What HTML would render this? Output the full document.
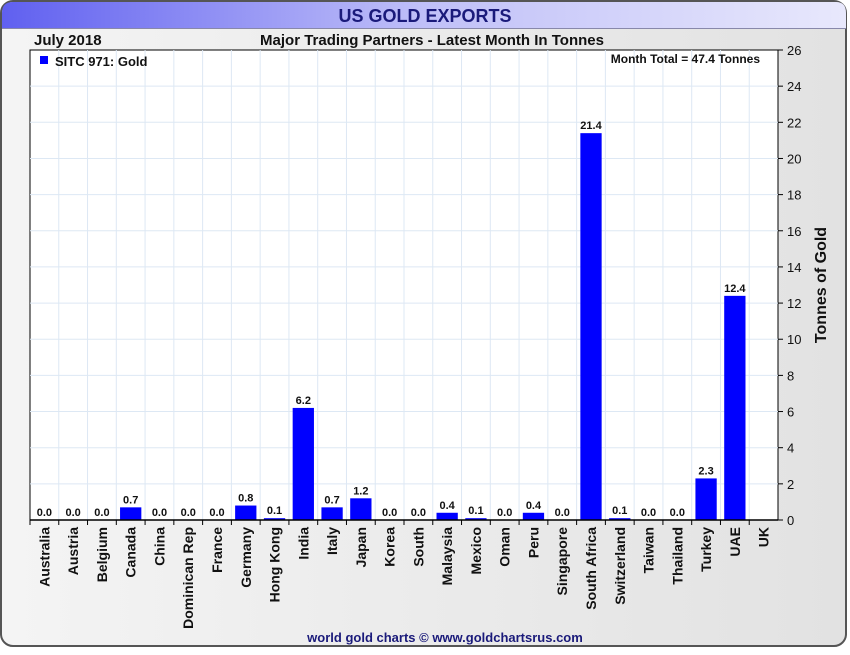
<!DOCTYPE html>
<html><head><meta charset="utf-8"><style>
body{margin:0;width:850px;height:650px;overflow:hidden;background:#fff;font-family:"Liberation Sans",sans-serif}
</style></head><body>
<svg width="850" height="650" xmlns="http://www.w3.org/2000/svg">
<defs>
<linearGradient id="tb" x1="0" x2="1"><stop offset="0" stop-color="#6060f0"/><stop offset="0.5" stop-color="#c0c0f8"/><stop offset="1" stop-color="#e8e8fc"/></linearGradient>
<linearGradient id="bg" x1="0" x2="1"><stop offset="0" stop-color="#f4f4f4"/><stop offset="1" stop-color="#e2e2e2"/></linearGradient>
</defs>
<rect x="1" y="1" width="845" height="645" rx="12" fill="url(#bg)" stroke="#555" stroke-width="2"/>
<path d="M2 28 V13 Q2 2 13 2 H836 Q846 2 846 13 V28 Z" fill="url(#tb)"/>
<line x1="2" y1="28.5" x2="846" y2="28.5" stroke="#8888aa"/>
<text x="425" y="22" text-anchor="middle" font-size="18" font-weight="bold" fill="#1a1a7a">US GOLD EXPORTS</text>
<text x="34" y="45" font-size="15" font-weight="bold" fill="#111">July 2018</text>
<text x="432" y="45" text-anchor="middle" font-size="15" font-weight="bold" fill="#111">Major Trading Partners - Latest Month In Tonnes</text>
<rect x="30" y="50" width="748" height="470" fill="#fff" stroke="#000"/>
<g id="grid"></g><g id="bars"></g><g id="axes"></g>
<rect x="40" y="56" width="8" height="8" fill="#0000ff"/>
<text x="55" y="66" font-size="13" font-weight="bold" fill="#111">SITC 971: Gold</text>
<text x="760" y="63" text-anchor="end" font-size="12" font-weight="bold" fill="#111">Month Total = 47.4 Tonnes</text>
<text transform="translate(826,285) rotate(-90)" text-anchor="middle" font-size="16" font-weight="bold" fill="#111">Tonnes of Gold</text>
<text x="445" y="642" text-anchor="middle" font-size="13" font-weight="bold" fill="#1a1a7a">world gold charts © www.goldchartsrus.com</text>
</svg>
<script>
const categories=["Australia","Austria","Belgium","Canada","China","Dominican Rep","France","Germany","Hong Kong","India","Italy","Japan","Korea","South","Malaysia","Mexico","Oman","Peru","Singapore","South Africa","Switzerland","Taiwan","Thailand","Turkey","UAE","UK"];
const values=[0.0,0.0,0.0,0.7,0.0,0.0,0.0,0.8,0.1,6.2,0.7,1.2,0.0,0.0,0.4,0.1,0.0,0.4,0.0,21.4,0.1,0.0,0.0,2.3,12.4,null];
const yTicks=[0,2,4,6,8,10,12,14,16,18,20,22,24,26];
const NS="http://www.w3.org/2000/svg";
const L=30,R=778,T=50,B=520,yMax=26;
const bw=(R-L)/categories.length;
function y(v){return B-(v/yMax)*(B-T);}
function xc(i){return L+bw*(i+0.5);}
function mk(tag,attrs,parent,txt){const e=document.createElementNS(NS,tag);for(const k in attrs)e.setAttribute(k,attrs[k]);if(txt!==undefined)e.textContent=txt;document.getElementById(parent).appendChild(e);return e;}
yTicks.forEach(t=>{
  if(t>0&&t<yMax){const g=mk("line",{x1:L,x2:R,y1:y(t),y2:y(t),stroke:"#dde8f4"},"grid");
  
  }
  const tk=mk("line",{x1:R,x2:R+5,y1:y(t),y2:y(t),stroke:"#000"},"axes");
  
  
  const lb=mk("text",{x:R+9,y:y(t)+5,"font-size":"13",fill:"#111"},"axes",String(t));
  
  
});
categories.forEach((c,i)=>{
  if(i>0){const g=mk("line",{x1:L+bw*i,x2:L+bw*i,y1:T,y2:B,stroke:"#dde8f4"},"grid");
  
  }
  const tk=mk("line",{x1:L+bw*i,x2:L+bw*i,y1:B,y2:B+5,stroke:"#000"},"axes");
  
  
  const lb=mk("text",{transform:`translate(${xc(i)+5},${B+7}) rotate(-90)`,"text-anchor":"end","font-size":"14","font-weight":"bold",fill:"#111"},"axes",c);
  
  
  const v=values[i];
  if(v===null)return;
  const h=Math.max(B-y(v),0);
  const b=mk("rect",{x:xc(i)-bw*0.37,y:B-h,width:bw*0.74,height:h,fill:"#0000ff"},"bars");
  
  
  const vl=mk("text",{x:xc(i),y:B-h-4,"text-anchor":"middle","font-size":"11","font-weight":"bold",fill:"#111"},"bars",v.toFixed(1));
  
  
});
const ax=mk("line",{x1:L,x2:R,y1:B,y2:B,stroke:"#000","stroke-width":"1.5"},"axes");


</script>
</body></html>
